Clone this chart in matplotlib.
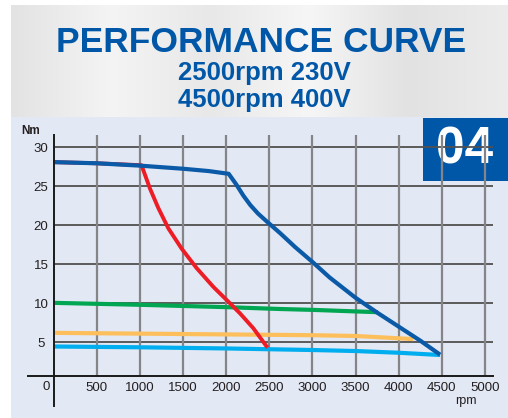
import numpy as np
import matplotlib
matplotlib.use('Agg')
import matplotlib.pyplot as plt
from matplotlib.patches import Rectangle
from matplotlib.colors import LinearSegmentedColormap

plt.rcParams['font.family'] = ['Liberation Sans', 'DejaVu Sans']

# curve data (rpm, Nm)
blue_rpm = [0, 500, 1000, 1500, 1800, 2030, 2120, 2200, 2280, 2370, 2470, 2625, 2800, 3000, 3200, 3500, 3750, 4000, 4250, 4480]
blue_nm = [28.1, 27.95, 27.65, 27.25, 26.95, 26.6, 25.2, 23.8, 22.6, 21.5, 20.5, 19.0, 17.2, 15.3, 13.3, 10.7, 8.8, 7.0, 5.2, 3.4]

red_rpm = [0, 500, 1020, 1118, 1215, 1331, 1485, 1659, 1852, 2026, 2161, 2315, 2480]
red_nm = [28.1, 27.95, 27.7, 24.7, 22.2, 19.6, 17.0, 14.5, 12.1, 10.2, 8.7, 6.8, 4.3]

green_rpm = [0, 1000, 2000, 2625, 3000, 3500, 3760]
green_nm = [10.05, 9.8, 9.5, 9.26, 9.15, 8.95, 8.85]

orange_rpm = [0, 1000, 2000, 3000, 3500, 4170]
orange_nm = [6.2, 6.1, 6.0, 5.9, 5.8, 5.4]

cyan_rpm = [0, 1000, 2000, 2500, 3000, 3500, 4000, 4480]
cyan_nm = [4.45, 4.35, 4.2, 4.1, 4.0, 3.87, 3.65, 3.36]

x_ticks = [500, 1000, 1500, 2000, 2500, 3000, 3500, 4000, 4500, 5000]
y_ticks = [5, 10, 15, 20, 25, 30]

W, H = 508, 418
fig = plt.figure(figsize=(W / 100, H / 100), dpi=100)
fig.patch.set_facecolor('white')

# background panels, pixel coordinates
bg = fig.add_axes([0, 0, 1, 1])
bg.set_xlim(0, W)
bg.set_ylim(H, 0)
bg.axis('off')
grey = LinearSegmentedColormap.from_list('grey', ['#e3e3e3', '#f4f4f4', '#e8e8e8', '#f6f6f6', '#e2e2e2', '#ececec'])
bg.imshow(np.linspace(0, 1, 256)[None, :], cmap=grey, aspect='auto',
          extent=[11, W, 117, 5], zorder=0)
bg.add_patch(Rectangle((11, 117), W - 11, H - 117, color='#e2e8f4', zorder=1, lw=0))
bg.add_patch(Rectangle((423, 118), W - 423, 63, color='#0057a8', zorder=3, lw=0))
bg.text(465, 150, '04', color='white', fontsize=37, fontweight='bold',
        ha='center', va='center', zorder=4)

title_c = '#0057a8'
fig.text(261.5 / W, 1 - 52 / H, 'PERFORMANCE CURVE', color=title_c, fontsize=25.5,
         fontweight='bold', ha='center', va='baseline')
fig.text(264 / W, 1 - 80 / H, '2500rpm 230V', color=title_c, fontsize=18.5,
         fontweight='bold', ha='center', va='baseline')
fig.text(264 / W, 1 - 107 / H, '4500rpm 400V', color=title_c, fontsize=18.5,
         fontweight='bold', ha='center', va='baseline')

# main chart: 0..5000 rpm -> px 53.5..485, 0..30 Nm -> px 381.2..147.3
org = 53.5
px_rpm = (485 - org) / 5000
px_nm = (381.2 - 147.3) / 30
x0, x1 = -(org - 28) / px_rpm, (493 - org) / px_rpm
y0, y1 = -(406 - 381.2) / px_nm, (381.2 - 135) / px_nm
ax = fig.add_axes([28 / W, (H - 406) / H, 465 / W, 271 / H])
ax.set_xlim(x0, x1)
ax.set_ylim(y0, y1)
ax.patch.set_alpha(0)

axis_y = 0.7
ax.hlines(y_ticks, 0, x1, color='#505050', lw=1.3, zorder=1)
ax.vlines(x_ticks, axis_y, y1, color='#858587', lw=1.6, zorder=1)

ax.plot(green_rpm, green_nm, color='#00a651', lw=3, solid_capstyle='butt', zorder=3)
ax.plot(orange_rpm, orange_nm, color='#fdbf5c', lw=3, solid_capstyle='butt', zorder=3)
ax.plot(cyan_rpm, cyan_nm, color='#00aeef', lw=3, solid_capstyle='butt', zorder=3)
ax.plot(red_rpm, red_nm, color='#ee1c25', lw=2.8, solid_capstyle='butt', zorder=4)
ax.plot(blue_rpm, blue_nm, color='#0a5aa8', lw=3, solid_capstyle='butt', zorder=5)

for s in ['top', 'right']:
    ax.spines[s].set_visible(False)
ax.spines['left'].set_position(('data', 0))
ax.spines['bottom'].set_position(('data', axis_y))
for s in ['left', 'bottom']:
    ax.spines[s].set_color('#1a1a1a')
    ax.spines[s].set_linewidth(1.4)
    ax.spines[s].set_zorder(6)

ax.set_xticks(x_ticks)
ax.set_yticks(y_ticks)
ax.tick_params(length=0, labelsize=9.5, labelcolor='#231f20')
ax.tick_params(axis='x', pad=4.5)
ax.tick_params(axis='y', pad=9)
for lbl in ax.get_yticklabels():
    lbl.set_ha('center')

ax.annotate('0', xy=(0, axis_y), xytext=(-7, -11), textcoords='offset pixels',
            ha='center', va='center', fontsize=9.5, color='#231f20')
fig.text(466 / W, 1 - 401 / H, 'rpm', ha='center', va='center', fontsize=9, color='#231f20')
fig.text(31 / W, 1 - 131 / H, 'Nm', ha='center', va='center', fontsize=8.5,
         fontweight='bold', color='#231f20')

fig.savefig('out.png', dpi=100)
